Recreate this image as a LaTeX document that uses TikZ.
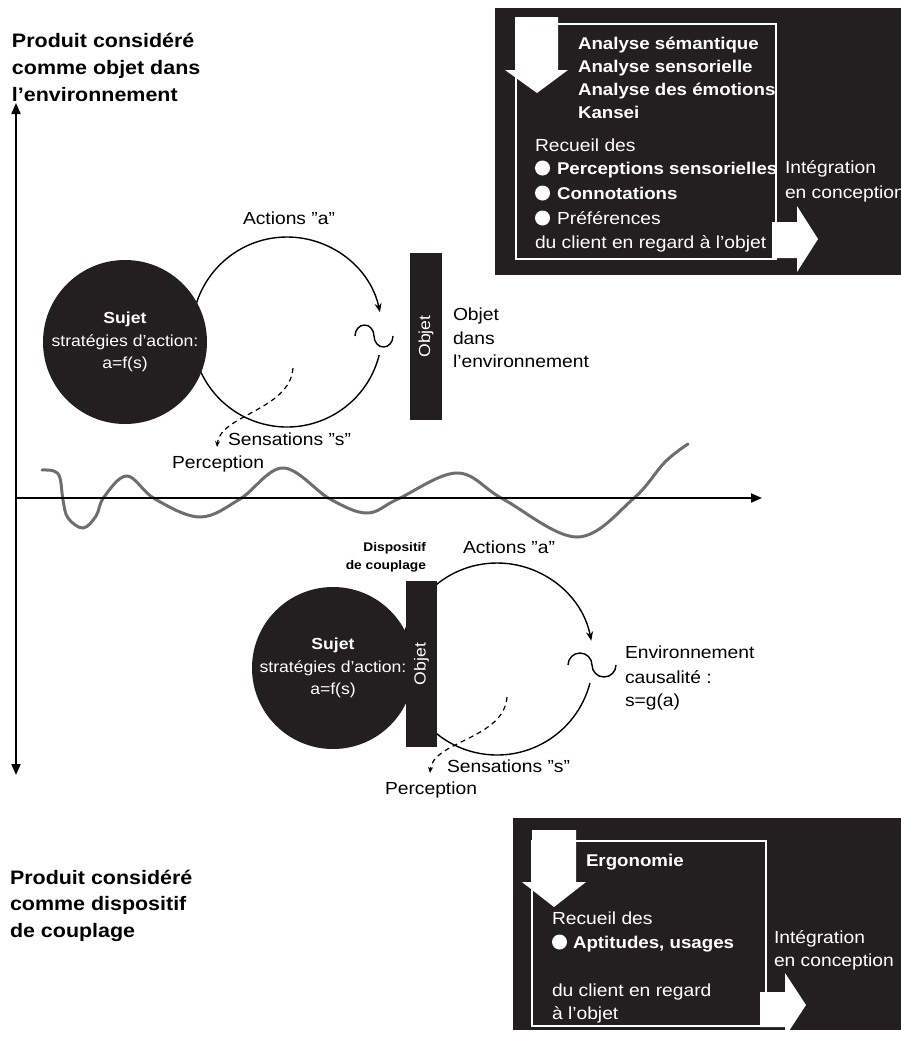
\documentclass[tikz,border=0pt]{standalone}
\usepackage{fontspec}
\setmainfont{Liberation Sans}[FakeStretch=1.1]
\usetikzlibrary{arrows.meta}
\definecolor{dark}{RGB}{35,31,32}
\definecolor{wavegray}{RGB}{110,110,110}
\tikzset{
  plain0/.style={inner sep=0pt, outer sep=0pt},
  txt/.style={plain0, anchor=base west, font=\fontsize{17.5}{21}\selectfont},
  txtb/.style={plain0, anchor=base west, font=\fontsize{17}{21}\selectfont\bfseries},
  txtw/.style={txt, text=white},
  txtbw/.style={txtb, text=white},
  ttl/.style={plain0, anchor=base west, font=\fontsize{19.5}{24}\selectfont\bfseries},
  small/.style={plain0, anchor=base east, font=\fontsize{12.5}{15}\selectfont\bfseries},
  sujetc/.style={circle, fill=dark, text=white, minimum size=164pt, inner sep=0pt, align=center, font=\fontsize{16}{22.5}\selectfont},
  objbar/.style={fill=dark, text=white, rotate=90, inner sep=0pt, font=\fontsize{16}{18}\selectfont},
  loopline/.style={line width=1.4pt},
  ringarrow/.style={loopline, -{Stealth[length=9pt,width=7pt]}},
  sense/.style={line width=1.2pt, dash pattern=on 5pt off 4pt, -{Stealth[length=6pt,width=5pt]}},
  wavy/.style={line width=3pt, wavegray, line cap=round},
  axisline/.style={line width=2pt},
  blockarrow/.style={fill=white},
}
\begin{document}
\begin{tikzpicture}[x=1pt,y=1pt]
\useasboundingbox (0,0) rectangle (901,-1039);

% wave
\draw[wavy] plot[smooth, tension=0.6] coordinates {(42,-470) (54,-471) (60,-478) (63,-500) (68,-518) (83,-528) (96,-516) (104,-497) (127,-476) (155,-499) (200,-517) (240,-499) (283,-468) (330,-499) (367,-513) (398,-499) (457,-473) (503,-499) (577,-537) (633,-499) (665,-462) (688,-444)};

% axes
\coordinate (ytop) at (16,-103);
\coordinate (ybot) at (16,-775);
\coordinate (xorig) at (16,-498);
\coordinate (xend) at (762,-498);
\draw[axisline, {Triangle[length=11pt,width=9pt]}-{Triangle[length=11pt,width=9pt]}] (ytop) -- (ybot);
\draw[axisline, -{Triangle[length=11pt,width=9pt]}] (xorig) -- (xend);

% titles
\node[ttl] (tt1) at (12,-47) {Produit considéré};
\node[ttl] (tt2) at (12,-74) {comme objet dans};
\node[ttl] (tt3) at (12,-101) {l'environnement};
\node[ttl] (bt1) at (10,-884) {Produit considéré};
\node[ttl] (bt2) at (10,-910) {comme dispositif};
\node[ttl] (bt3) at (10,-937) {de couplage};

% ===== upper diagram =====
\coordinate (ring1) at (287,-332);
\draw[ringarrow] ([shift={(180:95)}]ring1) arc[start angle=180, end angle=12, radius=95];
\draw[loopline] ([shift={(-14:95)}]ring1) arc[start angle=-14, end angle=-180, radius=95];
\node[sujetc] (sujet1) at (125,-342) {\textbf{Sujet}\\stratégies d'action:\\a=f(s)};
\node[objbar, minimum width=167pt, minimum height=32pt] (objet1) at (426,-336.5) {Objet};
\coordinate (tl1) at (355,-336);
\draw[loopline] (tl1) arc[start angle=180, end angle=0, x radius=9.5, y radius=11] arc[start angle=180, end angle=360, x radius=9.5, y radius=11];
\coordinate (ds1) at (293,-368);
\coordinate (de1) at (217,-447);
\draw[sense] (ds1) .. controls (290,-410) and (220,-415) .. (de1);
\node[txt, anchor=base] (act1) at (289,-224.3) {Actions ''a''};
\node[txt] (oe1) at (453,-320.3) {Objet};
\node[txt] (oe2) at (453,-344.3) {dans};
\node[txt] (oe3) at (453,-367.3) {l'environnement};
\node[txt] (sens1) at (228,-445.3) {Sensations ''s''};
\node[txt] (perc1) at (172,-468.3) {Perception};

% ===== lower diagram =====
\coordinate (ring2) at (497,-659);
\draw[ringarrow] ([shift={(180:96)}]ring2) arc[start angle=180, end angle=11, radius=96];
\draw[loopline] ([shift={(-14.5:96)}]ring2) arc[start angle=-14.5, end angle=-180, radius=96];
\node[sujetc, minimum size=162pt] (sujet2) at (333,-668) {\textbf{Sujet}\\stratégies d'action:\\a=f(s)};
\node[objbar, minimum width=166pt, minimum height=31pt] (objet2) at (421.5,-664) {Objet};
\coordinate (tl2) at (568,-665);
\draw[loopline] (tl2) arc[start angle=180, end angle=0, x radius=12, y radius=12] arc[start angle=180, end angle=360, x radius=12, y radius=12];
\coordinate (ds2) at (507,-697);
\coordinate (de2) at (430,-773);
\draw[sense] (ds2) .. controls (504,-739) and (433,-741) .. (de2);
\node[small] (disp1) at (426,-551) {Dispositif};
\node[small] (disp2) at (426,-569) {de couplage};
\node[txt, anchor=base] (act2) at (509,-553.3) {Actions ''a''};
\node[txt] (env1) at (625,-658.3) {Environnement};
\node[txt] (env2) at (625,-683.3) {causalité :};
\node[txt] (env3) at (625,-706.3) {s=g(a)};
\node[txt] (sens2) at (447,-772.3) {Sensations ''s''};
\node[txt] (perc2) at (385,-794.3) {Perception};

% ===== top box =====
\fill[dark] (495,-8) rectangle (901,-275);
\draw[white, line width=1.5pt] (516,-24) rectangle (776,-259);
\fill[blockarrow] (515,-17) -- (558,-17) -- (558,-70) -- (568,-70) -- (537,-93) -- (505,-70) -- (515,-70) -- cycle;
\fill[blockarrow] (772,-222) -- (797,-222) -- (797,-206) -- (818,-239) -- (797,-272) -- (797,-258) -- (772,-258) -- cycle;
\node[txtbw] (a1) at (578,-49.3) {Analyse sémantique};
\node[txtbw] (a2) at (578,-72.3) {Analyse sensorielle};
\node[txtbw] (a3) at (578,-95.3) {Analyse des émotions};
\node[txtbw] (a4) at (578,-118.3) {Kansei};
\node[txtw] (r1) at (535,-151.3) {Recueil des};
\fill[white] (542.5,-168) circle (7.5);
\fill[white] (542.5,-193) circle (7.5);
\fill[white] (542.5,-218) circle (7.5);
\node[txtbw] (p1) at (557,-174.3) {Perceptions sensorielles};
\node[txtbw] (p2) at (557,-199.3) {Connotations};
\node[txtw] (p3) at (557,-224.3) {Préférences};
\node[txtw] (c1) at (535,-248.3) {du client en regard à l'objet};
\node[txtw] (i1) at (785,-173.3) {Intégration};
\node[txtw] (i2) at (785,-198.3) {en conception};

% ===== bottom box =====
\fill[dark] (513,-818) rectangle (901,-1030);
\draw[white, line width=1.5pt] (532,-841) rectangle (766,-1026);
\fill[blockarrow] (532,-830) -- (576,-830) -- (576,-882) -- (586,-882) -- (554,-907) -- (522,-882) -- (532,-882) -- cycle;
\fill[blockarrow] (760,-992) -- (785,-992) -- (785,-973) -- (806,-1005) -- (785,-1037) -- (785,-1027) -- (760,-1027) -- cycle;
\node[txtbw] (e1) at (586,-866.3) {Ergonomie};
\node[txtw] (e2) at (552,-924.3) {Recueil des};
\fill[white] (559.5,-942) circle (7.5);
\node[txtbw] (e3) at (573,-948.3) {Aptitudes, usages};
\node[txtw] (e4) at (552,-996.3) {du client en regard};
\node[txtw] (e5) at (552,-1019.3) {à l'objet};
\node[txtw] (e6) at (774,-943.3) {Intégration};
\node[txtw] (e7) at (774,-966.3) {en conception};
\end{tikzpicture}
\end{document}
